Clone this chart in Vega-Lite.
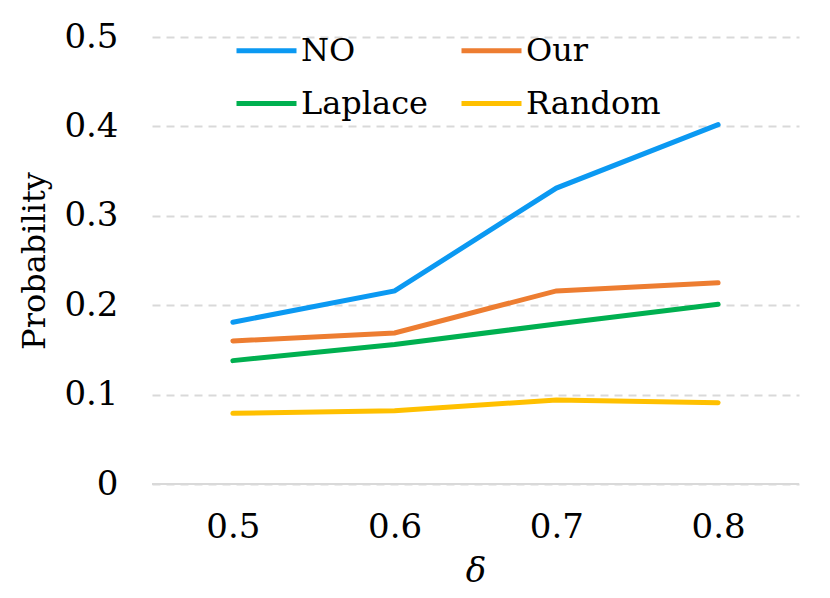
{
  "$schema": "https://vega.github.io/schema/vega-lite/v6.json",
  "width": 830,
  "height": 598,
  "autosize": {"type": "fit", "contains": "padding"},
  "padding": {"left": 18, "top": 20, "right": 30, "bottom": 10},
  "background": "white",
  "config": {
    "view": {"stroke": null},
    "font": "DejaVu Serif"
  },
  "data": {
    "values": [
      {"delta": "0.5", "method": "NO", "p": 0.181},
      {"delta": "0.6", "method": "NO", "p": 0.216},
      {"delta": "0.7", "method": "NO", "p": 0.331},
      {"delta": "0.8", "method": "NO", "p": 0.402},
      {"delta": "0.5", "method": "Our", "p": 0.160},
      {"delta": "0.6", "method": "Our", "p": 0.169},
      {"delta": "0.7", "method": "Our", "p": 0.216},
      {"delta": "0.8", "method": "Our", "p": 0.225},
      {"delta": "0.5", "method": "Laplace", "p": 0.138},
      {"delta": "0.6", "method": "Laplace", "p": 0.156},
      {"delta": "0.7", "method": "Laplace", "p": 0.179},
      {"delta": "0.8", "method": "Laplace", "p": 0.201},
      {"delta": "0.5", "method": "Random", "p": 0.079},
      {"delta": "0.6", "method": "Random", "p": 0.082},
      {"delta": "0.7", "method": "Random", "p": 0.094},
      {"delta": "0.8", "method": "Random", "p": 0.091}
    ]
  },
  "layer": [
    {
      "data": {"values": [{"y": 0}]},
      "mark": {"type": "rule", "color": "#d9d9d9", "strokeWidth": 2},
      "encoding": {"y": {"field": "y", "type": "quantitative"}}
    },
    {
      "mark": {"type": "line", "strokeWidth": 5, "strokeCap": "round"},
      "encoding": {
        "x": {
          "field": "delta",
          "type": "ordinal",
          "scale": {"type": "point", "padding": 0.5},
          "title": "δ",
          "axis": {
            "labelAngle": 0,
            "labelFontSize": 34,
            "labelPadding": 26,
            "labelColor": "black",
            "ticks": false,
            "domain": false,
            "titleFontSize": 34,
            "titleFontStyle": "italic",
            "titleFontWeight": "normal",
            "titlePadding": 10,
            "titleColor": "black"
          }
        },
        "y": {
          "field": "p",
          "type": "quantitative",
          "scale": {"domain": [0, 0.5], "nice": false},
          "title": "Probability",
          "axis": {
            "values": [0, 0.1, 0.2, 0.3, 0.4, 0.5],
            "labelExpr": "datum.value == 0 ? '0' : format(datum.value, '.1f')",
            "labelFontSize": 34,
            "labelPadding": 34,
            "labelColor": "black",
            "ticks": false,
            "domain": false,
            "grid": true,
            "gridDash": [8, 6],
            "gridColor": "#d9d9d9",
            "gridWidth": 2,
            "titleFontSize": 32,
            "titleFontWeight": "normal",
            "titlePadding": 12,
            "titleColor": "black"
          }
        },
        "color": {
          "field": "method",
          "type": "nominal",
          "scale": {
            "domain": ["NO", "Laplace", "Our", "Random"],
            "range": ["#0B99F2", "#00B050", "#ED7D31", "#FFC000"]
          },
          "legend": {
            "orient": "none",
            "legendX": 82,
            "legendY": -19,
            "columns": 2,
            "title": null,
            "symbolType": "stroke",
            "symbolStrokeWidth": 5,
            "symbolSize": 3600,
            "labelFontSize": 32,
            "labelColor": "black",
            "labelOffset": 2,
            "columnPadding": 23,
            "rowPadding": 4,
            "labelLimit": 300
          }
        }
      }
    }
  ]
}
